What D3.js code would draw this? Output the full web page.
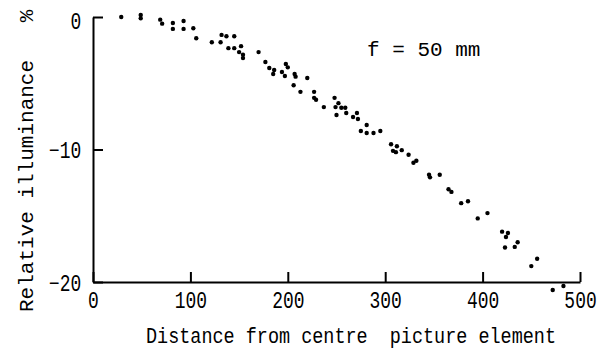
<!DOCTYPE html>
<html>
<head>
    <meta charset="UTF-8">
    <script src="https://cdn.jsdelivr.net/npm/d3@7"></script>
    <style>
        body { margin: 0; background: #fff; }
        text { font-family: "Liberation Mono", "DejaVu Sans Mono", monospace; fill: #000; }
    </style>
</head>
<body>
    <script>
        // distance from centre (picture elements) and relative illuminance (%)
        var distance = [29, 49, 49, 69, 71, 82, 82, 93, 93, 103, 106,
            122, 132, 131, 137, 145, 139, 145, 152, 150, 154, 154, 170,
            177, 181, 186, 185, 198, 200, 194, 197, 207, 208, 206, 213,
            220, 227, 227, 229, 237, 248, 249, 252, 250, 255, 259, 260,
            267, 271, 272, 281, 275, 281, 288, 295, 306, 312, 308, 311,
            317, 324, 329, 332, 345, 346, 356, 365, 368, 378, 385, 395,
            405, 420, 426, 424, 423, 433, 436, 450, 456, 472, 483]
        var illuminance = [0, 0.15, -0.1, -0.2, -0.5, -0.45, -0.9, -0.3, -0.9, -0.85, -1.6,
            -1.9, -1.35, -1.9, -1.45, -1.45, -2.35, -2.35, -2.2, -2.65, -2.85, -3.1, -2.65,
            -3.4, -3.85, -4.0, -4.3, -3.55, -3.8, -4.15, -4.45, -4.3, -4.5, -5.15, -5.65,
            -4.6, -5.65, -6.1, -6.25, -6.8, -6.1, -6.8, -6.5, -7.4, -6.85, -6.85, -7.25,
            -7.55, -7.25, -7.7, -8.15, -8.6, -8.75, -8.75, -8.6, -9.6, -9.75, -10.1, -10.2,
            -10.05, -10.4, -11.0, -10.85, -11.9, -12.1, -11.9, -13.0, -13.2, -14.05, -13.9, -15.2,
            -14.8, -16.2, -16.3, -16.6, -17.4, -17.35, -17.0, -18.8, -18.25, -20.6, -20.3]
        var xTicks = [0, 100, 200, 300, 400, 500]
        var yTicks = [0, -10, -20]

        var data = distance.map(function(d, i){
            return {x: d, y: illuminance[i]}
        })

        var svg = d3.select('body')
            .append('svg')
            .attr('width', 601)
            .attr('height', 353)

        var x = d3.scaleLinear().domain([0, 500]).range([93, 580])
        var y = d3.scaleLinear().domain([-20, 0]).range([282, 17])

        var xAxis = svg.append('g')
            .attr('transform', 'translate(0,' + y(-20) + ')')
            .call(d3.axisBottom(x).tickValues(xTicks).tickSizeInner(-10).tickSizeOuter(0).tickPadding(10))

        var yAxis = svg.append('g')
            .attr('transform', 'translate(' + x(0) + ',0)')
            .call(d3.axisLeft(y).tickValues(yTicks).tickFormat(d3.format('d')).tickSizeInner(-10).tickSizeOuter(0).tickPadding(0))

        svg.selectAll('.domain, .tick line')
            .attr('stroke', '#000')
            .attr('stroke-width', 2)

        // condensed typewriter look
        xAxis.selectAll('text')
            .attr('font-size', 23)
            .attr('font-family', '"Liberation Mono", monospace')
            .attr('transform', 'scale(0.78,1)')
        yAxis.selectAll('text')
            .attr('font-size', 23)
            .attr('font-family', '"Liberation Mono", monospace')
            .attr('x', -15)
            .attr('dy', '0.35em')
            .attr('transform', 'scale(0.78,1)')
        yAxis.selectAll('.tick').filter(function(d){ return d == 0 })
            .select('text').attr('dy', '0.5em')

        svg.selectAll('circle')
            .data(data)
            .enter()
            .append('circle')
            .attr('cx', function(d){ return x(d.x) })
            .attr('cy', function(d){ return y(d.y) })
            .attr('r', 2.2)
            .attr('fill', '#000')

        svg.append('text')
            .attr('font-size', 21)
            .attr('transform', 'translate(367,56)')
            .text('f = 50 mm')

        svg.append('text')
            .attr('font-size', 22)
            .attr('text-anchor', 'middle')
            .attr('transform', 'translate(351,343) scale(0.84,1)')
            .text('Distance from centre\u00a0\u00a0picture element')

        svg.append('text')
            .attr('font-size', 21)
            .attr('text-anchor', 'start')
            .attr('transform', 'translate(33,312) rotate(-90)')
            .text('Relative illuminance\u00a0\u00a0\u00a0%')
    </script>
</body>
</html>
